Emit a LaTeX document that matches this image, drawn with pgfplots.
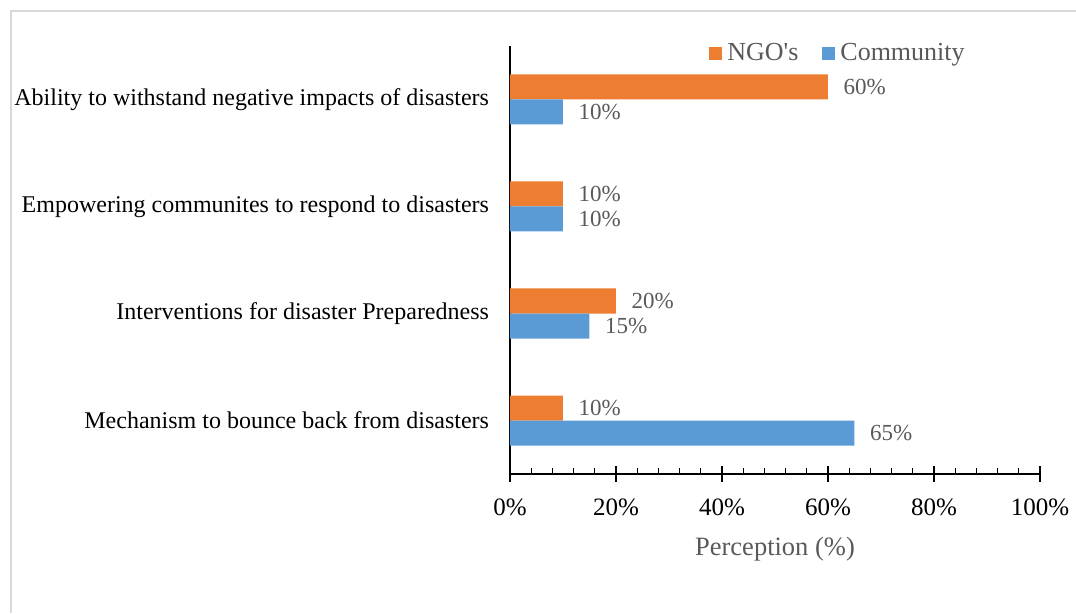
\documentclass[border=0pt]{standalone}
\usepackage{pgfplots}
\pgfplotsset{compat=1.18}
\usepackage{fontspec}
\setmainfont{Liberation Serif}
\newfontfamily\plainfont{Liberation Serif}
\definecolor{ngo}{HTML}{ED7D31}
\definecolor{com}{HTML}{5B9BD5}
\definecolor{txtgray}{HTML}{595959}
\definecolor{framegray}{HTML}{D9D9D9}
\begin{document}
\fontsize{22}{26}\selectfont
\begin{tikzpicture}[x=1pt,y=1pt]
\useasboundingbox (-510,-139) rectangle (566,474);
\draw[framegray, line width=1.5pt] (-499,-139) -- (-499,463) -- (566,463);
\begin{axis}[
  at={(0,0)}, anchor=south west,
  scale only axis, width=530pt, height=428pt,
  xbar, bar width=25pt,
  xmin=0, xmax=100, ymin=0.5, ymax=4.5,
  axis lines=left, axis line style={-, line width=1.3pt},
  xtick={0,20,40,60,80,100},
  xticklabels={0\%,20\%,40\%,60\%,80\%,100\%},
  minor xtick={4,8,12,16,24,28,32,36,44,48,52,56,64,68,72,76,84,88,92,96},
  xtick align=center, major tick length=15pt, minor tick length=6pt,
  every tick/.style={black, line width=1.1pt},
  minor x tick style={yshift=3pt},
  xticklabel style={yshift=-10pt, font=\fontsize{25}{28}\selectfont},
  ytick={1,2,3,4},
  yticklabels={Mechanism to bounce back from disasters,Interventions for disaster Preparedness,Empowering communites to respond to disasters,Ability to withstand negative impacts of disasters},
  y tick style={draw=none},
  yticklabel style={xshift=-6pt, font=\fontsize{24}{28}\selectfont},
  /pgf/number format/assume math mode=true,
  xlabel={Perception (\%)},
  xlabel style={text=txtgray, font=\fontsize{26.5}{30}\selectfont, yshift=-6pt},
  nodes near coords={\pgfmathprintnumber{\pgfplotspointmeta}\%},
  nodes near coords style={text=txtgray, font=\fontsize{23}{26}\selectfont, anchor=west, xshift=8pt},
  legend columns=2,
  legend style={draw=none, fill=none, at={(0.37,1.017)}, anchor=north west, text=txtgray, font=\fontsize{26}{30}\selectfont, /tikz/every even column/.append style={column sep=22pt}},
  legend image code/.code={\fill[#1] (0pt,-6.5pt) rectangle (13pt,6.5pt); \path (13pt,0pt) -- (16pt,0pt);},
  clip=false,
]
\addplot[fill=ngo, draw=none, bar shift=12.5pt] coordinates {(60,4) (10,3) (20,2) (10,1)};
\addplot[fill=com, draw=none, bar shift=-12.5pt] coordinates {(10,4) (10,3) (15,2) (65,1)};
\legend{{\plainfont NGO's}, Community}
\end{axis}
\end{tikzpicture}
\end{document}
